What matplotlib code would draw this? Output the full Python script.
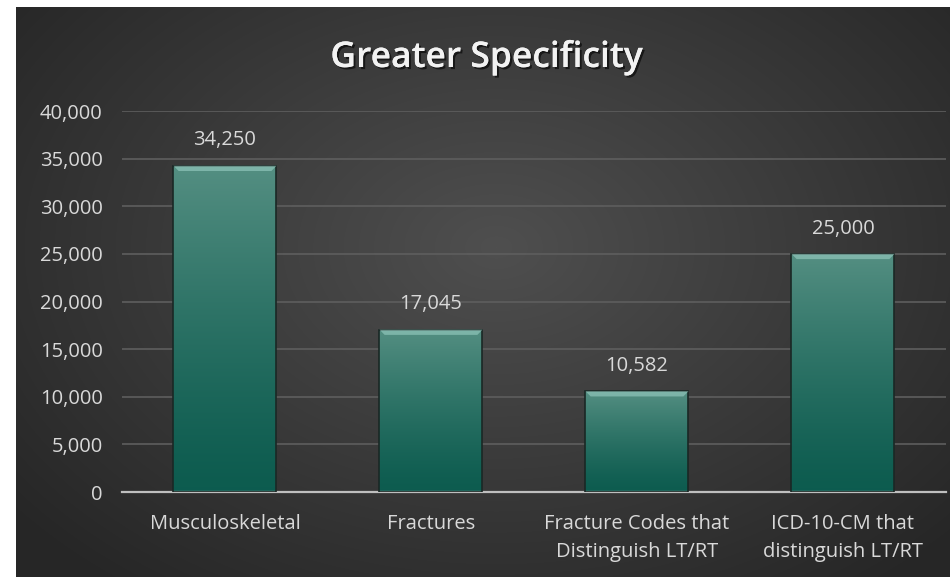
import numpy as np
import matplotlib.pyplot as plt
from matplotlib.patches import Rectangle, Polygon
from matplotlib.ticker import FuncFormatter
import matplotlib.patheffects as pe

categories = ["Musculoskeletal", "Fractures", "Fracture Codes that\nDistinguish LT/RT",
              "ICD-10-CM that\ndistinguish LT/RT"]
valores = [34250, 17045, 10582, 25000]

W, H = 953, 577
fig = plt.figure(figsize=(W / 100, H / 100), dpi=100)
fig.patch.set_facecolor("white")

# fundo escuro com gradiente radial
bg = fig.add_axes([16 / W, 0, (950 - 16) / W, 1 - 7 / H])
yy, xx = np.mgrid[0:570, 0:934]
r = np.sqrt(((xx - 480) / 620) ** 2 + ((yy - 240) / 430) ** 2)
r = np.clip(r, 0, 1)
c0, c1 = np.array([0.31, 0.31, 0.31]), np.array([0.15, 0.15, 0.15])
img = c0[None, None, :] * (1 - r[..., None]) + c1[None, None, :] * r[..., None]
bg.imshow(img, aspect="auto", extent=[0, 1, 0, 1])
bg.set_axis_off()

ax = fig.add_axes([122 / W, 1 - 492 / H, (946 - 122) / W, (492 - 111) / H])
ax.patch.set_alpha(0)
x = np.arange(len(categories))
largura = 0.5

# barras com gradiente vertical
grad = np.linspace(0, 1, 256)[:, None] ** 1.3
top_c = np.array([0.33, 0.56, 0.51])
bot_c = np.array([0.05, 0.36, 0.31])
bev = 550  # altura do chanfro no topo
dx = 0.025
for xi, v in zip(x, valores):
    g = bot_c[None, None, :] * (1 - grad[..., None]) + top_c[None, None, :] * grad[..., None]
    g = np.repeat(g, 2, axis=1)
    rect = Rectangle((xi - largura / 2, 0), largura, v, facecolor="none",
                     edgecolor="#1a2825", lw=1.2, zorder=3)
    ax.add_patch(rect)
    im = ax.imshow(g, origin="lower", aspect="auto", zorder=2,
                   extent=[xi - largura / 2, xi + largura / 2, 0, v])
    im.set_clip_path(rect)
    # chanfro no topo
    l, rr = xi - largura / 2, xi + largura / 2
    ax.add_patch(Polygon([(l, v), (rr, v), (rr - dx, v - bev), (l + dx, v - bev)],
                         closed=True, facecolor="#9acfc4", alpha=0.6, lw=0, zorder=3))
    ax.annotate(f"{v:,}", (xi, v), xytext=(0, 11), textcoords="offset points",
                ha="center", va="bottom", color="#d9d9d9", fontsize=14.5,
                family="Open Sans")

ax.set_xlim(-0.5, len(categories) - 0.5)
ax.set_ylim(0, 40000)
ax.set_yticks(np.arange(0, 40001, 5000))
ax.yaxis.set_major_formatter(FuncFormatter(lambda v, p: f"{int(v):,}"))
ax.set_xticks(x)
ax.set_xticklabels(categories, linespacing=1.5)
ax.grid(axis="y", color="#5e5e5e", lw=1.2, zorder=0)
ax.set_axisbelow(True)
for s in ["top", "right", "left"]:
    ax.spines[s].set_visible(False)
ax.spines["bottom"].set_color("#bfbfbf")
ax.spines["bottom"].set_linewidth(1.6)
ax.tick_params(axis="x", length=0, pad=16)
ax.tick_params(axis="y", length=0, pad=14)
for lbl in ax.get_xticklabels() + ax.get_yticklabels():
    lbl.set_family("Open Sans")
    lbl.set_color("#d9d9d9")
    lbl.set_fontsize(14.5)

fig.text(486 / W, 1 - 58 / H, "Greater Specificity", ha="center", va="center",
         fontsize=25.5, fontweight="semibold", color="#f2f2f2", family="Open Sans",
         path_effects=[pe.withSimplePatchShadow(offset=(1.5, -1.5), shadow_rgbFace="black", alpha=0.6),
                       pe.Normal()])

fig.savefig("out.png", dpi=100, facecolor=fig.get_facecolor())
